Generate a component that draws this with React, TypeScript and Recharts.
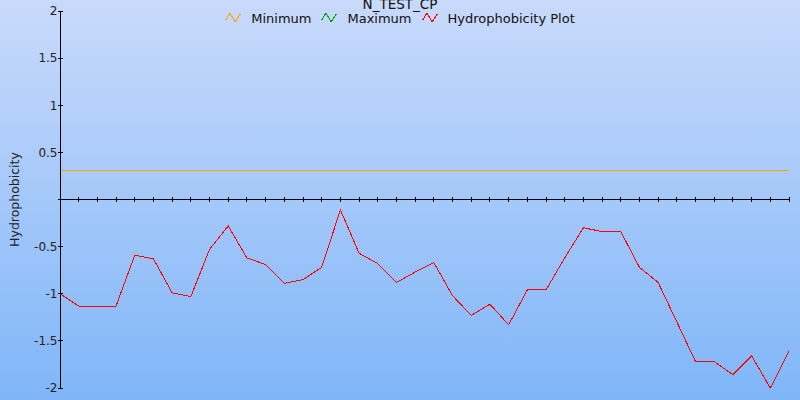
import React from 'react';
import { LineChart, Line, XAxis, YAxis } from 'recharts';

const chartTitle = 'N_TEST_CP';
const yAxisTitle = 'Hydrophobicity';

const positions = [
  1, 2, 3, 4, 5, 6, 7, 8, 9, 10,
  11, 12, 13, 14, 15, 16, 17, 18, 19, 20,
  21, 22, 23, 24, 25, 26, 27, 28, 29, 30,
  31, 32, 33, 34, 35, 36, 37, 38, 39, 40,
];

const hydrophobicity = [
  -1.0, -1.13, -1.13, -1.13, -0.59, -0.63, -0.99, -1.03, -0.53, -0.28,
  -0.62, -0.69, -0.89, -0.85, -0.72, -0.11, -0.57, -0.68, -0.88, -0.77,
  -0.67, -1.02, -1.23, -1.11, -1.33, -0.96, -0.96, -0.62, -0.3, -0.34,
  -0.34, -0.72, -0.88, -1.3, -1.72, -1.72, -1.86, -1.66, -2.0, -1.61,
];

const minimumValue = 0.31;

const yTicks = [-2, -1.5, -1, -0.5, 0, 0.5, 1, 1.5, 2];

const seriesNames = ['Minimum', 'Maximum', 'Hydrophobicity Plot'];
const seriesColors = ['#ffa500', '#00a000', '#ff0000'];

const data = positions.map((p, i) => ({
  pos: p,
  hydro: hydrophobicity[i],
  min: minimumValue,
  axis: 0,
}));

const FONT = '"DejaVu Sans", Verdana, sans-serif';

const AxisTickMark = (props: any) => {
  const { cx, cy, index } = props;
  if (cx == null || cy == null) return null;
  return (
    <line
      key={`xt-${index}`}
      x1={cx}
      x2={cx}
      y1={cy - 2.5}
      y2={cy + 2.5}
      stroke="#000"
      strokeWidth={1}
      shapeRendering="crispEdges"
    />
  );
};

const YTick = (props: any) => {
  const { x, y, payload } = props;
  return (
    <g>
      <line
        x1={x - 2.5}
        x2={x + 2.5}
        y1={y}
        y2={y}
        stroke="#000"
        strokeWidth={1}
        shapeRendering="crispEdges"
      />
      {payload.value !== 0 && (
        <text
          x={x - 2.5}
          y={y}
          dy="0.36em"
          textAnchor="end"
          fontFamily={FONT}
          fontSize={12}
          fill="#222"
        >
          {String(payload.value)}
        </text>
      )}
    </g>
  );
};

const YLabel = (props: any) => {
  const vb = props.viewBox || { x: 0, y: 0, width: 60, height: 377 };
  const cx = vb.x + 19;
  const cy = vb.y + vb.height / 2;
  return (
    <text
      x={cx}
      y={cy}
      transform={`rotate(-90 ${cx} ${cy})`}
      textAnchor="middle"
      fontFamily={FONT}
      fontSize={12.5}
      fill="#222"
    >
      {yAxisTitle}
    </text>
  );
};

const LegendIcon = ({ color }: { color: string }) => (
  <svg width={16} height={11} style={{ display: 'block', marginTop: 1 }}>
    <polyline
      points="0.5,8.5 5,0.8 10,10 15.5,1.8"
      fill="none"
      stroke={color}
      strokeWidth={1}
      shapeRendering="crispEdges"
    />
  </svg>
);

export default function App() {
  return (
    <div
      style={{
        position: 'absolute',
        left: 0,
        top: 0,
        width: 800,
        height: 400,
        overflow: 'hidden',
        background: 'linear-gradient(to bottom, #c9dafb 0%, #7fb6f8 100%)',
      }}
    >
      <LineChart
        width={800}
        height={400}
        data={data}
        margin={{ top: 11, right: 11, bottom: 12, left: 0 }}
      >
        <XAxis dataKey="pos" type="number" domain={['dataMin', 'dataMax']} hide />
        <YAxis
          domain={[-2, 2]}
          ticks={yTicks}
          width={60}
          tickSize={0}
          tickMargin={0}
          tickLine={false}
          axisLine={{ stroke: '#000', strokeWidth: 1, shapeRendering: 'crispEdges' }}
          tick={<YTick />}
          interval={0}
          allowDataOverflow
          label={<YLabel />}
        />
        <Line
          dataKey="axis"
          stroke="#000"
          strokeWidth={1}
          dot={<AxisTickMark />}
          activeDot={false}
          isAnimationActive={false}
          legendType="none"
          shapeRendering="crispEdges"
        />
        <Line
          dataKey="min"
          name={seriesNames[0]}
          stroke={seriesColors[0]}
          strokeWidth={1.3}
          dot={false}
          activeDot={false}
          isAnimationActive={false}
          shapeRendering="crispEdges"
        />
        <Line
          dataKey="hydro"
          name={seriesNames[2]}
          stroke={seriesColors[2]}
          strokeWidth={1}
          dot={false}
          activeDot={false}
          isAnimationActive={false}
          type="linear"
          shapeRendering="crispEdges"
        />
      </LineChart>
      <svg
        width={800}
        height={30}
        style={{ position: 'absolute', left: 0, top: 0, pointerEvents: 'none' }}
      >
        <text x={400} y={9} textAnchor="middle" fontFamily={FONT} fontSize={13.5} fill="#111">
          {chartTitle}
        </text>
      </svg>
      <div
        style={{
          position: 'absolute',
          left: 0,
          top: 11,
          width: 800,
          height: 15,
          display: 'flex',
          justifyContent: 'center',
          alignItems: 'flex-start',
          fontFamily: FONT,
          fontSize: 13,
          lineHeight: '15px',
          color: '#111',
        }}
      >
        {seriesNames.map((name, i) => (
          <div
            key={name}
            style={{
              display: 'flex',
              alignItems: 'flex-start',
              marginRight: i < seriesNames.length - 1 ? 10 : 0,
            }}
          >
            <LegendIcon color={seriesColors[i]} />
            <span style={{ marginLeft: 10, whiteSpace: 'nowrap' }}>{name}</span>
          </div>
        ))}
      </div>
    </div>
  );
}
